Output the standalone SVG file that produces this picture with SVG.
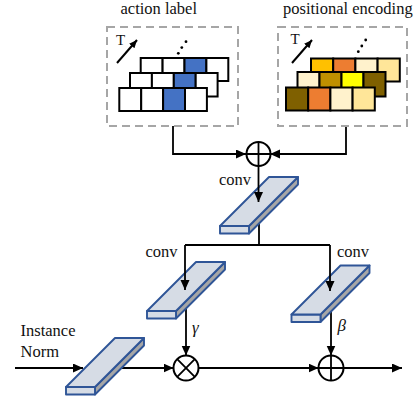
<svg xmlns="http://www.w3.org/2000/svg" xmlns:xlink="http://www.w3.org/1999/xlink" width="419" height="402" viewBox="0 0 419 402">
  <style>
    .txt { font-family: "Liberation Serif", "Times New Roman", serif; font-size: 16.5px; fill: #111; }
    .sym { font-family: "Liberation Serif", "Times New Roman", serif; font-size: 17px; font-style: italic; fill: #111; }
    .frame { fill: none; stroke: #A6A6A6; stroke-width: 2; stroke-dasharray: 8 5; }
    .cell { stroke: #000; stroke-width: 2; }
    .wire { fill: none; stroke: #000; stroke-width: 1.8; }
    .op { fill: #fff; stroke: #000; stroke-width: 2; }
    .slab-top { fill: #D6DCE5; stroke: #2F5597; stroke-width: 1.9; stroke-linejoin: round; }
    .slab-side { fill: #A6A6A6; stroke: #2F5597; stroke-width: 1.9; stroke-linejoin: round; }
  </style>
  <defs>
    <marker id="arrow" markerUnits="userSpaceOnUse" markerWidth="11" markerHeight="10" refX="10" refY="4.5" orient="auto">
      <path d="M0,0 L10,4.5 L0,9 Z" fill="#000"/>
    </marker>
    <marker id="arrow-small" markerUnits="userSpaceOnUse" markerWidth="9" markerHeight="8" refX="8" refY="3.5" orient="auto">
      <path d="M0,0 L8,3.5 L0,7 Z" fill="#000"/>
    </marker>
    <!-- convolution slab, origin at front-left corner of top face -->
    <g id="slab">
      <path class="slab-side" d="M29,0 L78,-49 L78,-41.5 L29,7.5 Z"/>
      <rect class="slab-top" x="0" y="0" width="29" height="7.5"/>
      <path class="slab-top" d="M0,0 L29,0 L78,-49 L49,-49 Z"/>
    </g>
  </defs>

  <rect width="419" height="402" fill="#fff"/>

  <!-- wires that pass underneath blocks -->
  <g id="connectors">
    <path class="wire" d="M173,126 V154 H246" marker-end="url(#arrow)"/>
    <path class="wire" d="M346,126 V154 H270" marker-end="url(#arrow)"/>
    <path class="wire" d="M259,205 V245"/>
    <path class="wire" d="M185,245 H330"/>
    <path class="wire" d="M186,290 V355.5" marker-end="url(#arrow)"/>
    <path class="wire" d="M331,292 V355.5" marker-end="url(#arrow)"/>
    <path class="wire" d="M15,368 H83" marker-end="url(#arrow)"/>
    <path class="wire" d="M100,368 H173.5" marker-end="url(#arrow)"/>
    <path class="wire" d="M198.5,368 H318.5" marker-end="url(#arrow)"/>
    <path class="wire" d="M343.5,368 H402" marker-end="url(#arrow)"/>
  </g>

  <!-- action label panel -->
  <g id="action-label">
    <text class="txt" x="120.5" y="13.5">action label</text>
    <rect class="frame" x="107" y="27" width="131" height="99"/>
    <text class="txt" x="116" y="45" style="font-size:15px">T</text>
    <line x1="117" y1="63" x2="137" y2="40" stroke="#000" stroke-width="2" marker-end="url(#arrow-small)"/>
    <circle cx="178.3" cy="53.3" r="1.4" fill="#000"/>
    <circle cx="181.8" cy="47.6" r="1.4" fill="#000"/>
    <circle cx="186" cy="41.7" r="1.4" fill="#000"/>
    <g>
      <rect class="cell" x="140.7" y="58" width="21.9" height="23" fill="#fff"/>
      <rect class="cell" x="162.6" y="58" width="21.9" height="23" fill="#fff"/>
      <rect class="cell" x="184.5" y="58" width="21.9" height="23" fill="#4472C4"/>
      <rect class="cell" x="206.4" y="58" width="21.9" height="23" fill="#fff"/>
    </g>
    <g>
      <rect class="cell" x="130" y="73" width="21.9" height="23.5" fill="#fff"/>
      <rect class="cell" x="151.9" y="73" width="21.9" height="23.5" fill="#fff"/>
      <rect class="cell" x="173.8" y="73" width="21.9" height="23.5" fill="#4472C4"/>
      <rect class="cell" x="195.7" y="73" width="21.9" height="23.5" fill="#fff"/>
    </g>
    <g>
      <rect class="cell" x="119.3" y="88" width="21.9" height="23" fill="#fff"/>
      <rect class="cell" x="141.2" y="88" width="21.9" height="23" fill="#fff"/>
      <rect class="cell" x="163.1" y="88" width="21.9" height="23" fill="#4472C4"/>
      <rect class="cell" x="185" y="88" width="21.9" height="23" fill="#fff"/>
    </g>
  </g>

  <!-- positional encoding panel -->
  <g id="positional-encoding">
    <text class="txt" x="283" y="13.5">positional encoding</text>
    <rect class="frame" x="278" y="27" width="129" height="99"/>
    <text class="txt" x="290.5" y="44" style="font-size:15px">T</text>
    <line x1="292" y1="63" x2="312" y2="40" stroke="#000" stroke-width="2" marker-end="url(#arrow-small)"/>
    <circle cx="358.3" cy="51.7" r="1.4" fill="#000"/>
    <circle cx="361.8" cy="46" r="1.4" fill="#000"/>
    <circle cx="365.7" cy="40" r="1.4" fill="#000"/>
    <g>
      <rect class="cell" x="311" y="58.5" width="22.2" height="23" fill="#FFC000"/>
      <rect class="cell" x="333.2" y="58.5" width="22.2" height="23" fill="#ED7D31"/>
      <rect class="cell" x="355.4" y="58.5" width="22.2" height="23" fill="#FFF2CC"/>
      <rect class="cell" x="377.6" y="58.5" width="22.2" height="23" fill="#FFE699"/>
    </g>
    <g>
      <rect class="cell" x="297.5" y="72" width="22" height="24.5" fill="#FFF2CC"/>
      <rect class="cell" x="319.5" y="72" width="22" height="24.5" fill="#BF9000"/>
      <rect class="cell" x="341.5" y="72" width="22" height="24.5" fill="#FFFF00"/>
      <rect class="cell" x="363.5" y="72" width="22" height="24.5" fill="#7F6000"/>
    </g>
    <g>
      <rect class="cell" x="286" y="87.5" width="22.2" height="23" fill="#7F6000"/>
      <rect class="cell" x="308.2" y="87.5" width="22.2" height="23" fill="#ED7D31"/>
      <rect class="cell" x="330.4" y="87.5" width="22.2" height="23" fill="#FFF2CC"/>
      <rect class="cell" x="352.6" y="87.5" width="22.2" height="23" fill="#FFE699"/>
    </g>
  </g>

  <!-- element-wise sum of the two embeddings -->
  <g id="add-embeddings">
    <circle class="op" cx="258.5" cy="154" r="12"/>
    <path class="wire" d="M246.5,154 H270.5 M258.5,142 V166"/>
  </g>

  <!-- shared convolution -->
  <g id="conv-shared">
    <use xlink:href="#slab" href="#slab" transform="translate(220,226)"/>
    <text class="txt" x="219" y="185">conv</text>
  </g>

  <!-- gamma branch -->
  <g id="conv-gamma">
    <use xlink:href="#slab" href="#slab" transform="translate(147,311)"/>
    <text class="txt" x="145.5" y="257">conv</text>
  </g>

  <!-- beta branch -->
  <g id="conv-beta">
    <use xlink:href="#slab" href="#slab" transform="translate(291.5,314.5)"/>
    <text class="txt" x="337" y="256.5">conv</text>
  </g>

  <!-- instance normalisation -->
  <g id="instance-norm">
    <use xlink:href="#slab" href="#slab" transform="translate(66,387)"/>
    <text class="txt" x="20.5" y="336">Instance</text>
    <text class="txt" x="20.5" y="357">Norm</text>
  </g>

  <!-- arrows drawn over the blocks -->
  <g id="connectors-over">
    <path class="wire" d="M258.5,166 V202" marker-end="url(#arrow)"/>
    <path class="wire" d="M185,245 V290" marker-end="url(#arrow)"/>
    <path class="wire" d="M330,245 V291" marker-end="url(#arrow)"/>
  </g>

  <!-- scale by gamma -->
  <g id="multiply">
    <circle class="op" cx="186" cy="368" r="12.5"/>
    <path class="wire" d="M177.2,359.2 L194.8,376.8 M194.8,359.2 L177.2,376.8"/>
    <text class="sym" x="192" y="333">γ</text>
  </g>

  <!-- shift by beta -->
  <g id="add-shift">
    <circle class="op" cx="331" cy="368" r="12.5"/>
    <path class="wire" d="M318.5,368 H343.5 M331,355.5 V380.5"/>
    <text class="sym" x="337.5" y="331">β</text>
  </g>
</svg>
